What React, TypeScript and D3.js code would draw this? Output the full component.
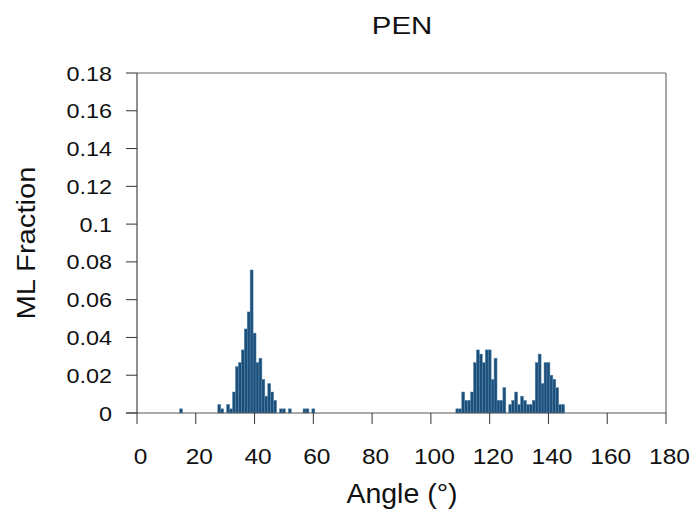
import React from "react";
import * as d3 from "d3";

// histogram bins, 1 degree wide, centred on the angle
const angles = [
  15, 28, 29, 31, 32, 33, 34, 35, 36, 37, 38, 39, 40, 41, 42, 43, 44, 45, 46, 47, 49, 50, 52, 57, 58, 60,
  109, 110, 111, 112, 113, 114, 115, 116, 117, 118, 119, 120, 121, 122, 123, 124, 125,
  127, 128, 129, 130, 131, 132, 133, 134, 135, 136, 137, 138, 139, 140, 141, 142, 143, 144, 145,
];
const fractions = [
  0.0022, 0.0045, 0.0022, 0.0045, 0.0022, 0.0111, 0.0245, 0.0267, 0.0334, 0.0445, 0.0535, 0.0757, 0.0423,
  0.0267, 0.029, 0.0178, 0.0089, 0.0156, 0.0111, 0.0067, 0.0022, 0.0022, 0.0022, 0.0022, 0.0022, 0.0022,
  0.0022, 0.0022, 0.0111, 0.0067, 0.0067, 0.0111, 0.0267, 0.0334, 0.0312, 0.0267, 0.0334, 0.0334, 0.0178,
  0.029, 0.0067, 0.0067, 0.0134,
  0.0045, 0.0067, 0.0111, 0.0045, 0.0089, 0.0067, 0.0045, 0.0045, 0.0067, 0.0267, 0.0312, 0.0156, 0.0267,
  0.0267, 0.02, 0.0178, 0.0134, 0.0045, 0.0045,
];
const xTicks = [0, 20, 40, 60, 80, 100, 120, 140, 160, 180];
const yTicks = [0, 0.02, 0.04, 0.06, 0.08, 0.1, 0.12, 0.14, 0.16, 0.18];

const W = 693;
const H = 512;
const left = 137, right = 666, top = 73, bottom = 413;
const font = "'Liberation Sans', Arial, sans-serif";

export default function App() {
  const x = d3.scaleLinear().domain([0, 180]).range([left, right]);
  const y = d3.scaleLinear().domain([0, 0.18]).range([bottom, top]);
  const fmt = (v: number) => String(+v.toFixed(2));

  return (
    <svg width={W} height={H} style={{ position: "absolute", left: 0, top: 0, background: "#fff" }}>
      {angles.map((a, i) => (
        <rect
          key={a}
          x={x(a - 0.5)}
          width={x(a + 0.5) - x(a - 0.5)}
          y={y(fractions[i])}
          height={y(0) - y(fractions[i])}
          fill="#1c4e78"
          stroke="#5288b2"
          strokeWidth={0.5}
        />
      ))}

      {/* frame */}
      <line x1={left} x2={right} y1={top} y2={top} stroke="#666" />
      <line x1={right} x2={right} y1={top} y2={bottom} stroke="#555" />
      <line x1={left - 11} x2={right} y1={bottom} y2={bottom} stroke="#555" />
      <line x1={left} x2={left} y1={top} y2={bottom} stroke="#222" />

      {yTicks.map((t) => (
        <g key={t}>
          <line x1={left - 11} x2={left} y1={y(t)} y2={y(t)} stroke="#333" />
          <text
            transform={`translate(112,${y(t) + 7.5}) scale(1.2,1)`}
            textAnchor="end"
            fontFamily={font}
            fontSize={19.5}
            fill="#111"
          >
            {fmt(t)}
          </text>
        </g>
      ))}

      {xTicks.map((t) => (
        <g key={t}>
          <line x1={x(t)} x2={x(t)} y1={bottom} y2={bottom + 11} stroke="#333" />
          <text
            transform={`translate(${x(t) + 3.5},463.5) scale(1.14,1)`}
            textAnchor="middle"
            fontFamily={font}
            fontSize={21.5}
            fill="#111"
          >
            {t}
          </text>
        </g>
      ))}

      <text
        transform="translate(402,34.3) scale(1.2,1)"
        textAnchor="middle"
        fontFamily={font}
        fontSize={24.5}
        fill="#111"
      >
        PEN
      </text>
      <text x={402} y={503.3} textAnchor="middle" fontFamily={font} fontSize={28.5} fill="#111">
        Angle (°)
      </text>
      <text
        transform="translate(35,243) rotate(-90) scale(1.17,1)"
        textAnchor="middle"
        fontFamily={font}
        fontSize={25}
        fill="#111"
      >
        ML Fraction
      </text>
    </svg>
  );
}
